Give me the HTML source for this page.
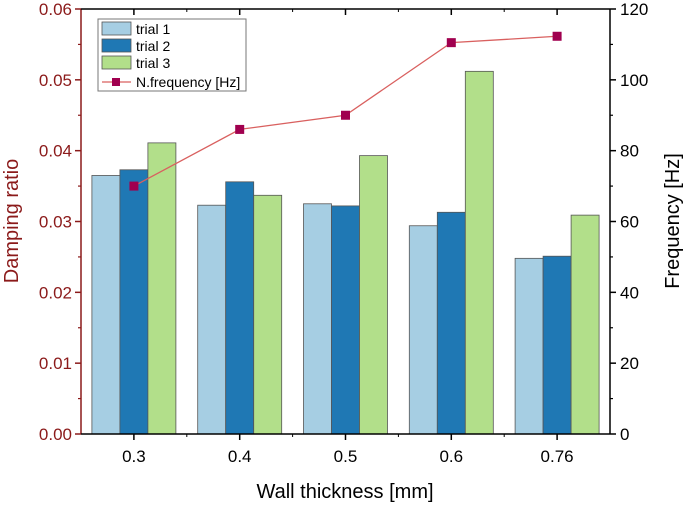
<!DOCTYPE html>
<html><head><meta charset="utf-8"><style>
html,body{margin:0;padding:0;background:#fff;}
svg{display:block;font-family:"Liberation Sans",Arial,sans-serif;}
</style></head><body>
<svg id="chart" width="685" height="505"></svg>
<script>
const categories=["0.3","0.4","0.5","0.6","0.76"];
const trial1=[0.0365,0.0323,0.0325,0.0294,0.0248];
const trial2=[0.0373,0.0356,0.0322,0.0313,0.0251];
const trial3=[0.0411,0.0337,0.0393,0.0512,0.0309];
const freq=[70,86,90,110.5,112.3];
const leftTicks=["0.00","0.01","0.02","0.03","0.04","0.05","0.06"];
const rightTicks=["0","20","40","60","80","100","120"];
const NS="http://www.w3.org/2000/svg";
const svg=document.getElementById('chart');
const L=81,R=610,T=9,B=434;
const yL=v=>B-(v/0.06)*(B-T);
const yR=v=>B-(v/120)*(B-T);
const band=(R-L)/categories.length;
const xC=i=>L+band*(i+0.5);
function mk(tag,attrs,parent){const e=document.createElementNS(NS,tag);for(const k in attrs)e.setAttribute(k,attrs[k]);(parent||svg).appendChild(e);return e;}
const bw=28;
const series=[[trial1,"#a6cee3"],[trial2,"#1f78b4"],[trial3,"#b2df8a"]];
series.forEach((s,si)=>{s[0].forEach((v,i)=>{
 const r=mk('rect',{x:xC(i)-1.5*bw+si*bw,y:yL(v),width:bw,height:B-yL(v),fill:s[1],stroke:"#555","stroke-width":0.8});
 
 
});});
const pts=freq.map((v,i)=>xC(i)+","+yR(v)).join(" ");
const pl=mk('polyline',{points:pts,fill:"none",stroke:"#d9605f","stroke-width":1.3});


freq.forEach((v,i)=>{const m=mk('rect',{x:xC(i)-4.5,y:yR(v)-4.5,width:9,height:9,fill:"#a0004f"});
 
 });
const red="#8b1a1a";
mk('line',{x1:L,y1:T,x2:L,y2:B,stroke:red,"stroke-width":1.5});
mk('line',{x1:L,y1:B,x2:R,y2:B,stroke:"#000","stroke-width":1.5});
mk('line',{x1:L,y1:T,x2:R,y2:T,stroke:"#000","stroke-width":1.5});
mk('line',{x1:R,y1:T,x2:R,y2:B,stroke:"#000","stroke-width":1.5});
leftTicks.forEach((t,i)=>{const y=yL(i*0.01);
 mk('line',{x1:L-6,y1:y,x2:L,y2:y,stroke:red,"stroke-width":1.5});
 if(i<6)mk('line',{x1:L-3,y1:y-(B-T)/12,x2:L,y2:y-(B-T)/12,stroke:red,"stroke-width":1.2});
 const tx=mk('text',{x:L-9,y:y+6,"text-anchor":"end","font-size":17,fill:red});tx.textContent=t;
 });
rightTicks.forEach((t,i)=>{const y=yR(i*20);
 mk('line',{x1:R,y1:y,x2:R+6,y2:y,stroke:"#000","stroke-width":1.5});
 if(i<6)mk('line',{x1:R,y1:y-(B-T)/12,x2:R+3,y2:y-(B-T)/12,stroke:"#000","stroke-width":1.2});
 const tx=mk('text',{x:R+10,y:y+6,"font-size":17,fill:"#000"});tx.textContent=t;
 });
categories.forEach((c,i)=>{const x=xC(i);
 mk('line',{x1:x,y1:B,x2:x,y2:B+6,stroke:"#000","stroke-width":1.5});
 mk('line',{x1:x,y1:T,x2:x,y2:T+6,stroke:"#000","stroke-width":1.5});
 if(i<categories.length-1){mk('line',{x1:x+band/2,y1:B,x2:x+band/2,y2:B+3,stroke:"#000"});mk('line',{x1:x+band/2,y1:T,x2:x+band/2,y2:T+3,stroke:"#000"});}
 const tx=mk('text',{x:x,y:B+28,"text-anchor":"middle","font-size":17});tx.textContent=c;
 });
let t=mk('text',{x:345,y:498,"text-anchor":"middle","font-size":20});t.textContent="Wall thickness [mm]";

t=mk('text',{x:0,y:0,"text-anchor":"middle","font-size":20,fill:red,transform:"translate(18,221) rotate(-90)"});t.textContent="Damping ratio";

t=mk('text',{x:0,y:0,"text-anchor":"middle","font-size":20,transform:"translate(679,221) rotate(-90)"});t.textContent="Frequency [Hz]";

const lg=mk('g',{});
mk('rect',{x:98,y:19,width:148,height:72,fill:"#fff",stroke:"#777","stroke-width":1},lg);
const names=["trial 1","trial 2","trial 3"];
series.forEach((s,i)=>{mk('rect',{x:102,y:22+i*17,width:29,height:13,fill:s[1],stroke:"#555","stroke-width":0.8},lg);
 const tx=mk('text',{x:136,y:34+i*17,"font-size":14},lg);tx.textContent=names[i];});
mk('line',{x1:102,y1:82,x2:131,y2:82,stroke:"#d9605f","stroke-width":1.3},lg);
mk('rect',{x:112,y:78,width:8,height:8,fill:"#a0004f"},lg);
const ft=mk('text',{x:136,y:87,"font-size":14},lg);ft.textContent="N.frequency [Hz]";
</script>
</body></html>
